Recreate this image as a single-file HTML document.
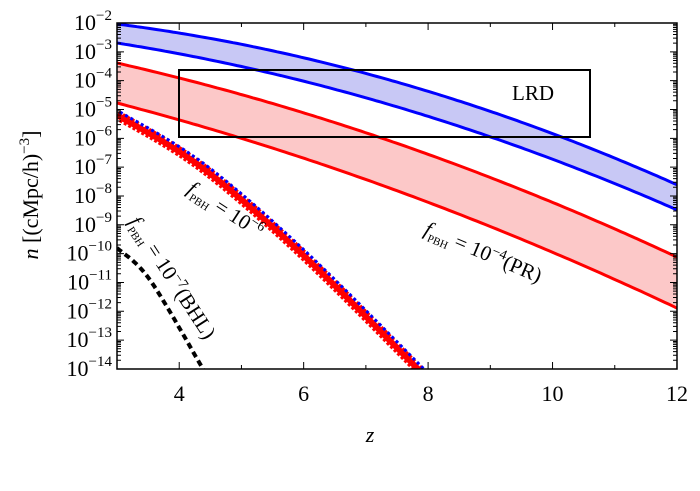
<!DOCTYPE html>
<html><head><meta charset="utf-8"><style>
body{margin:0;background:#fff}
svg text{font-family:"Liberation Serif",serif;fill:#000}
</style></head><body>
<svg id="s" width="700" height="486" viewBox="0 0 700 486" xmlns="http://www.w3.org/2000/svg"></svg>
<script>
const s=document.getElementById('s');
const X=z=>117+(z-3)*62.22;
const Y=l=>23+(-2-l)*28.83;
function quad(a,b,c){let o=[];for(let x=117;x<=677;x+=4){const d=x-117;o.push([x,a+b*d+c*d*d]);}return o;}
function smooth(pts){
 let out=[];const n=pts.length;
 for(let i=0;i<n-1;i++){const p0=pts[Math.max(i-1,0)],p1=pts[i],p2=pts[i+1],p3=pts[Math.min(i+2,n-1)];
  for(let k=0;k<20;k++){const t=k/20,t2=t*t,t3=t2*t;
   const f=(a,b,c,d)=>0.5*(2*b+(-a+c)*t+(2*a-5*b+4*c-d)*t2+(-a+3*b-3*c+d)*t3);
   out.push([f(p0[0],p1[0],p2[0],p3[0]),f(p0[1],p1[1],p2[1],p3[1])]);}}
 out.push(pts[n-1]);return out;}
const bu=quad(24,0.128,0.000284);
const bl=quad(43,0.158,0.00025);
const ru=quad(63,0.2273,0.000213);
const rl=quad(103,0.2604,0.000189);
const th=smooth([[117,115],[200,166],[300,252],[418,369],[430,382]]);
const bk=smooth([[117,248],[150,280],[203,369],[210,380]]);
const P=a=>a.map((p,i)=>(i?'L':'M')+p[0].toFixed(1)+' '+p[1].toFixed(1)).join('');
const R=a=>a.slice().reverse().map(p=>'L'+p[0].toFixed(1)+' '+p[1].toFixed(1)).join('');
let h='<defs><clipPath id="c"><rect x="117" y="23" width="560" height="346"/></clipPath></defs>';
h+='<g clip-path="url(#c)">';
h+=`<path d="${P(bu)}${R(bl)}Z" fill="#c8c8f5"/>`;
h+=`<path d="${P(ru)}${R(rl)}Z" fill="#fcc8c8"/>`;
h+=`<path d="${P(bu)}" stroke="#0000ff" stroke-width="3" fill="none"/><path d="${P(bl)}" stroke="#0000ff" stroke-width="3" fill="none"/>`;
h+=`<path d="${P(ru)}" stroke="#ff0000" stroke-width="3" fill="none"/><path d="${P(rl)}" stroke="#ff0000" stroke-width="3" fill="none"/>`;
h+=`<path d="${P(th)}" stroke="#ff0000" stroke-width="10" stroke-dasharray="3 2" fill="none"/>`;
h+=`<path d="${P(th)}" stroke="#ff0000" stroke-width="6" fill="none"/>`;
h+=`<path d="${P(th.map(p=>[p[0]+3,p[1]-3]))}" stroke="#0000ff" stroke-width="3" stroke-dasharray="3 3" fill="none"/>`;
h+=`<path d="${P(bk)}" stroke="#000" stroke-width="4" stroke-dasharray="6 4" fill="none"/>`;
h+='</g>';
h+='<rect x="179" y="70" width="411" height="67" fill="none" stroke="#000" stroke-width="2"/>';
h+='<text x="512" y="100" font-size="21">LRD</text>';
h+='<rect x="117" y="23" width="560" height="346" fill="none" stroke="#000" stroke-width="1.5"/>';
let t='';
for(let d=-14;d<=-2;d++){const y=Y(d);t+=`M117 ${y}h7M677 ${y}h-7`;
 h+=`<text x="112" y="${y+7}" font-size="22" text-anchor="end">10<tspan font-size="15" dy="-10">−${-d}</tspan></text>`;}
for(let d=-14;d<-2;d++)for(let k=2;k<10;k++){const yy=Y(d+Math.log10(k));t+=`M117 ${yy}h4M677 ${yy}h-4`;}
for(let z=3;z<=12;z+=0.5){const x=X(z);const L=(z%1==0)?(z%2==0?7:4):0;if(L){t+=`M${x} 369v-${L}M${x} 23v${L}`;}}
for(let z=4;z<=12;z+=2){h+=`<text x="${X(z)}" y="401" font-size="22" text-anchor="middle">${z}</text>`;}
h+=`<path d="${t}" stroke="#000" stroke-width="1"/>`;
h+='<text x="370" y="442" font-size="22" font-style="italic" text-anchor="middle">z</text>';
h+='<text transform="translate(38,195) rotate(-90)" font-size="22" text-anchor="middle"><tspan font-style="italic">n</tspan> [(cMpc/h)<tspan font-size="15" dy="-9">−3</tspan><tspan dy="9">]</tspan></text>';
h+='<text transform="translate(186,192) rotate(33)" font-size="21"><tspan font-style="italic">f</tspan><tspan font-size="11" dy="5">PBH</tspan><tspan dy="-5"> = 10</tspan><tspan font-size="14" dy="-8">−6</tspan></text>';
h+='<text transform="translate(423,234) rotate(23)" font-size="21"><tspan font-style="italic">f</tspan><tspan font-size="11" dy="5">PBH</tspan><tspan dy="-5"> = 10</tspan><tspan font-size="14" dy="-8">−4</tspan><tspan dy="8">(PR)</tspan></text>';
h+='<text transform="translate(128,222) rotate(57)" font-size="21"><tspan font-style="italic">f</tspan><tspan font-size="11" dy="5">PBH</tspan><tspan dy="-5"> = 10</tspan><tspan font-size="14" dy="-8">−7</tspan><tspan dy="8">(BHL)</tspan></text>';
s.innerHTML=h;
</script>
</body></html>
